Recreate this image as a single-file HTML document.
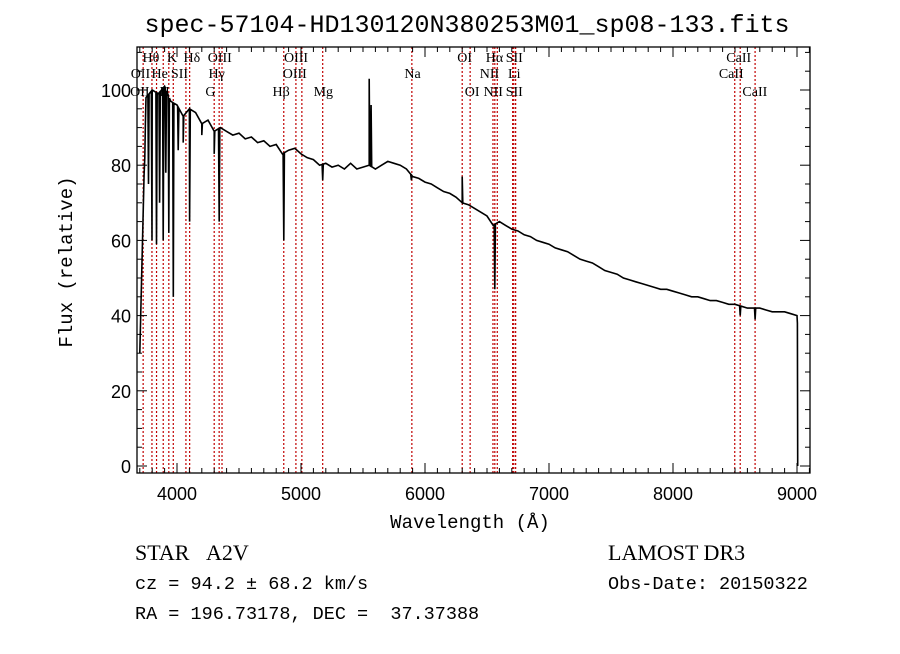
<!DOCTYPE html>
<html><head><meta charset="utf-8"><style>
body{margin:0;background:#fff;}
svg text{fill:#000;}
</style></head><body>
<svg id="chart" width="900" height="649" xmlns="http://www.w3.org/2000/svg">
<rect width="900" height="649" fill="#fff"/>
<text x="467" y="32" font-family="Liberation Mono, monospace" font-size="25" text-anchor="middle">spec-57104-HD130120N380253M01_sp08-133.fits</text>
<g id="lines"></g>
<g id="labels" font-family="Liberation Serif, serif" font-size="14"></g>
<path id="spec" fill="none" stroke="#000" stroke-width="1.6"/>
<rect x="137" y="47" width="673" height="426" fill="none" stroke="#000" stroke-width="1.3"/>
<g id="axes" stroke="#000"></g>
<g id="ticklabels" font-family="Liberation Sans, sans-serif" font-size="18"></g>
<text x="470" y="528" font-family="Liberation Mono, monospace" font-size="19" text-anchor="middle">Wavelength (Å)</text>
<text transform="translate(72,262) rotate(-90)" font-family="Liberation Mono, monospace" font-size="19" text-anchor="middle">Flux (relative)</text>
<text x="135" y="560" font-family="Liberation Serif, serif" font-size="22">STAR&#160;&#160;&#160;A2V</text>
<text x="608" y="560" font-family="Liberation Serif, serif" font-size="22">LAMOST DR3</text>
<text x="135" y="589" font-family="Liberation Mono, monospace" font-size="18.5">cz = 94.2 ± 68.2 km/s</text>
<text x="608" y="589" font-family="Liberation Mono, monospace" font-size="18.5">Obs-Date: 20150322</text>
<text x="135" y="619" font-family="Liberation Mono, monospace" font-size="18.5" xml:space="preserve">RA = 196.73178, DEC =  37.37388</text>
</svg>
<script>
const contWave = [];
for (let w = 3700; w <= 9000; w += 50) contWave.push(w);
const contFlux = [30,98,100,99,101,97,96,93,95,94,91,92,89,90,89,88,88.5,87,87.5,86,86.5,85,85.5,83,84,84.5,83,82,81.5,80,80.5,79.5,80,79,80.5,79,79.5,80,79,80,81,80.5,80,79,77,76.5,75.5,75,74,73,72.5,71.5,70,69.5,68.5,67.5,66.5,64,65,64,63,62.5,61.5,61,60,59.5,59,58,57.5,57,56,55,54.5,54,53,52,51.5,51,50,49.5,49,48.5,48,47.5,47,47,46.5,46,45.5,45,45,44.5,44,44,43.5,43,43,42.5,42,42,42,41.5,41,41,41,40.5,40];
const featWave = [3740,3770,3798,3835,3860,3889,3910,3934,3970,4010,4050,4102,4200,4300,4340,4861,5175,5550,5565,5890,6300,6563,8542,8662];
const featFlux = [82,75,60,59,70,60,78,62,45,84,86,65,88,83,65,60,76,103,96,76,77,47,40,39];
const markWave = [3727,3798,3835,3889,3934,3970,4072,4102,4300,4340,4363,4861,4959,5007,5175,5894,6300,6364,6548,6563,6583,6707,6716,6731,8498,8542,8662];
const labelText = ["Hθ","K","Hδ","OIII","OIII","OI","Hα","SII","CaII","OII","He","SII","Hγ","OIII","Na","NII","Li","CaII","OII","H","G","Hβ","Mg","OI","NII","SII","CaII"];
const labelWave = [3790,3960,4120,4345,4960,6320,6560,6720,8530,3705,3860,4020,4320,4950,5900,6520,6720,8470,3700,3900,4270,4840,5180,6380,6550,6720,8660];
const labelRow = [0,0,0,0,0,0,0,0,0,1,1,1,1,1,1,1,1,1,2,2,2,2,2,2,2,2,2];
const xTicks = [4000,5000,6000,7000,8000,9000];
const yTicks = [0,20,40,60,80,100];

const X0=137,X1=810,Y0=473,Y1=47;
const xs = w => 177 + (w-4000)*0.124;
const ys = f => 466 - f*3.76;
const NS="http://www.w3.org/2000/svg";
function mk(tag, parent, attrs){const e=document.createElementNS(NS,tag);for(const k in attrs)e.setAttribute(k,attrs[k]);parent.appendChild(e);return e;}
function contAt(w){for(let i=0;i<contWave.length-1;i++){if(w>=contWave[i]&&w<=contWave[i+1]){const t=(w-contWave[i])/50;return contFlux[i]+(contFlux[i+1]-contFlux[i])*t;}}return contFlux[contFlux.length-1];}

let pts = contWave.map((w,i)=>[w,contFlux[i]]);
featWave.forEach((w,i)=>{pts.push([w-5,contAt(w-5)]);pts.push([w,featFlux[i]]);pts.push([w+5,contAt(w+5)]);});
pts.push([9003,38]);pts.push([9006,0]);
pts.sort((a,b)=>a[0]-b[0]);
let d="";pts.forEach((p,i)=>{d+=(i?"L":"M")+xs(p[0]).toFixed(1)+","+ys(p[1]).toFixed(1);});
document.getElementById('spec').setAttribute('d',d);

const lg=document.getElementById('lines');
markWave.forEach(w=>{
  const l=mk('line',lg,{x1:xs(w),x2:xs(w),y1:Y1,y2:Y0,stroke:'#c00000','stroke-width':1.2,'stroke-dasharray':'2,2'});
  
  
});
const lb=document.getElementById('labels');
const rowY=[62,78,96];
labelText.forEach((t,i)=>{
  const e=mk('text',lb,{x:xs(labelWave[i]),y:rowY[labelRow[i]],'text-anchor':'middle'});
  e.textContent=t;
  
  
});

const ax=document.getElementById('axes');
for(let w=3700;w<=9100;w+=100){
  const x=xs(w); if(x<X0||x>X1) continue;
  const L=(w%1000===0)?10:5;
  mk('line',ax,{x1:x,x2:x,y1:Y0,y2:Y0-L});
  mk('line',ax,{x1:x,x2:x,y1:Y1,y2:Y1+L});
}
for(let f=0;f<=110;f+=5){
  const y=ys(f); const L=(f%20===0)?10:5;
  mk('line',ax,{x1:X0,x2:X0+L,y1:y,y2:y});
  mk('line',ax,{x1:X1,x2:X1-L,y1:y,y2:y});
}
const tl=document.getElementById('ticklabels');
xTicks.forEach(w=>{
  const e=mk('text',tl,{x:xs(w),y:500,'text-anchor':'middle'});e.textContent=w;
  
  
});
yTicks.forEach(f=>{
  const e=mk('text',tl,{x:131,y:ys(f)+7,'text-anchor':'end'});e.textContent=f;
  
  
});
</script>
</body></html>
